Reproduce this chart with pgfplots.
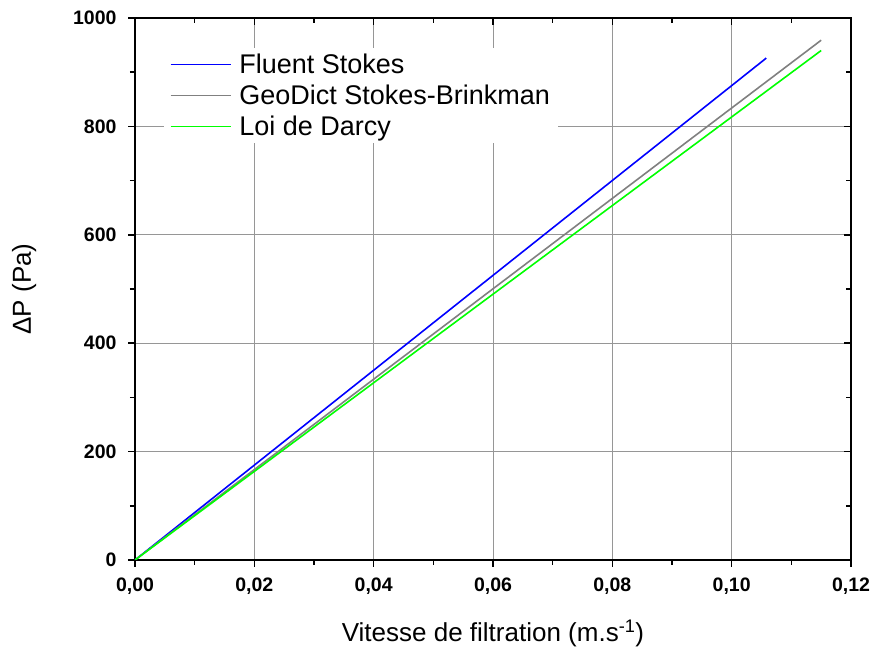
\documentclass[border=0pt]{standalone}
\usepackage{fontspec}
\setmainfont{Liberation Sans}
\usepackage{pgfplots}
\pgfplotsset{compat=1.18}
\definecolor{gridgray}{RGB}{150,150,150}
\begin{document}
\begin{tikzpicture}[x=1pt,y=1pt]
\useasboundingbox (-135,-90) rectangle (736,560);
\pgfplotsset{
  common/.style={
    scale only axis, width=716pt, height=542pt,
    xmin=0, xmax=0.12, ymin=0, ymax=1000,
    xtick={0,0.02,...,0.12}, ytick={0,200,...,1000},
    minor x tick num=1, minor y tick num=1,
    axis line style={line width=1.6pt},
    major tick length=7pt, minor tick length=5pt,
    every tick/.style={black, line width=1.5pt},
  }
}
\begin{axis}[common,
  tick align=outside,
  xtick pos=bottom, ytick pos=left,
  grid=major,
  major grid style={gridgray, line width=0.8pt},
  /pgf/number format/assume math mode=true,
  ticklabel style={font=\fontsize{19.5}{21}\selectfont\bfseries},
  xticklabel style={yshift=-7pt, /pgf/number format/.cd, use comma, fixed, fixed zerofill, precision=2},
  yticklabel style={xshift=-8pt, /pgf/number format/.cd, 1000 sep={}},
  xlabel={Vitesse de filtration (m.s\textsuperscript{-1})},
  ylabel={ΔP (Pa)},
  xlabel style={font=\fontsize{26}{30}\selectfont, yshift=-19pt},
  ylabel style={font=\fontsize{26}{30}\selectfont, yshift=30pt},
  legend style={at={(0.04,0.945)}, anchor=north west, draw=none, fill=white,
    font=\fontsize{27}{30}\selectfont, row sep=6pt, inner xsep=6pt, inner ysep=4pt},
  legend cell align=left,
  legend image code/.code={\draw[#1] (0pt,0pt) -- (60pt,0pt); \path (66pt,0pt);},
]
\addplot[blue, line width=1.6pt] coordinates {(0,0) (0.1058,926)};
\addlegendentry{Fluent Stokes}
\addplot[gray, line width=1.6pt] coordinates {(0,0) (0.1150,959)};
\addlegendentry{GeoDict Stokes-Brinkman}
\addplot[green, line width=1.6pt] coordinates {(0,0) (0.1150,940)};
\addlegendentry{Loi de Darcy}
\end{axis}
\begin{axis}[common,
  tick align=inside,
  xtick pos=top, ytick pos=right,
  xticklabels={}, yticklabels={},
  axis line style={draw=none},
]
\end{axis}
\end{tikzpicture}
\end{document}
